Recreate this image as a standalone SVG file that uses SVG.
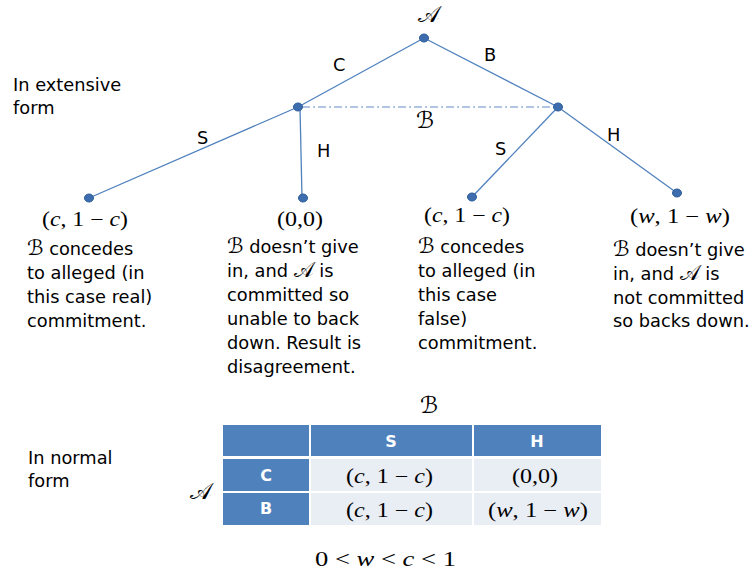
<svg xmlns="http://www.w3.org/2000/svg" width="752" height="577" viewBox="0 0 752 577">
<style>
.t{font-family:"DejaVu Sans","Liberation Sans",sans-serif;font-size:17.8px;fill:#000}
.m{font-family:"Liberation Serif","DejaVu Serif",serif;font-size:20px;fill:#000}
.i{font-style:italic}
.sc{font-family:"DejaVu Serif","DejaVu Sans",serif;font-size:23px;fill:#000}
.si{font-family:"DejaVu Serif","DejaVu Sans",serif;font-size:21px}
.edge{stroke:#4F81BD;stroke-width:1.3;fill:none}
.info{stroke:#95B3D7;stroke-width:1.5;stroke-dasharray:8 3 2 3;fill:none}
.node{fill:#3D6DAE;stroke:#2C5C99;stroke-width:1}
.hd{fill:#4F81BD}
.cell{fill:#E9EDF4}
.ht{font-family:"DejaVu Sans","Liberation Sans",sans-serif;font-size:16px;font-weight:bold;fill:#fff;text-anchor:middle}
</style>
<rect width="752" height="577" fill="#fff"/>
<g id="connectors">
<line class="edge" x1="424" y1="38" x2="298" y2="107"/>
<line class="edge" x1="424" y1="38" x2="558" y2="107"/>
<line class="info" x1="302" y1="107" x2="554" y2="107"/>
<line class="edge" x1="298" y1="107" x2="89" y2="198"/>
<line class="edge" x1="300" y1="107" x2="302" y2="198"/>
<line class="edge" x1="558" y1="107" x2="472" y2="197"/>
<line class="edge" x1="558" y1="107" x2="677" y2="193"/>
</g>
<g id="labels">
<text class="t" x="333" y="71">C</text>
<text class="t" x="484" y="61">B</text>
<text class="t" x="197" y="144">S</text>
<text class="t" x="317" y="157">H</text>
<text class="t" x="495" y="155">S</text>
<text class="t" x="607" y="141">H</text>
<text class="sc" x="416" y="128">ℬ</text>
</g>
<g id="root"><ellipse class="node" cx="424" cy="38" rx="4.5" ry="4"/><text class="sc" x="418" y="22">𝒜</text></g>
<g id="nodeC"><ellipse class="node" cx="298" cy="107" rx="4.5" ry="4"/></g>
<g id="nodeB"><ellipse class="node" cx="558" cy="107" rx="4.5" ry="4"/></g>
<g id="leafCS">
<ellipse class="node" cx="89" cy="198" rx="4.5" ry="4"/>
<text class="m" x="42" y="226" textLength="86" lengthAdjust="spacingAndGlyphs">(<tspan class="i">c</tspan>, 1 − <tspan class="i">c</tspan>)</text>
<text class="t" x="27" y="255"><tspan class="si">ℬ</tspan> concedes</text>
<text class="t" x="27" y="279">to alleged (in</text>
<text class="t" x="27" y="303">this case real)</text>
<text class="t" x="27" y="327">commitment.</text>
</g>
<g id="leafCH">
<ellipse class="node" cx="303" cy="198" rx="4.5" ry="4"/>
<text class="m" x="277" y="226" textLength="46" lengthAdjust="spacingAndGlyphs">(0,0)</text>
<text class="t" x="227" y="253"><tspan class="si">ℬ</tspan> doesn’t give</text>
<text class="t" x="227" y="277">in, and <tspan class="si">𝒜</tspan> is</text>
<text class="t" x="227" y="301">committed so</text>
<text class="t" x="227" y="325">unable to back</text>
<text class="t" x="227" y="349">down. Result is</text>
<text class="t" x="227" y="373">disagreement.</text>
</g>
<g id="leafBS">
<ellipse class="node" cx="472" cy="197" rx="4.5" ry="4"/>
<text class="m" x="424" y="222" textLength="86" lengthAdjust="spacingAndGlyphs">(<tspan class="i">c</tspan>, 1 − <tspan class="i">c</tspan>)</text>
<text class="t" x="418" y="253"><tspan class="si">ℬ</tspan> concedes</text>
<text class="t" x="418" y="277">to alleged (in</text>
<text class="t" x="418" y="301">this case</text>
<text class="t" x="418" y="325">false)</text>
<text class="t" x="418" y="349">commitment.</text>
</g>
<g id="leafBH">
<ellipse class="node" cx="677" cy="193" rx="4.5" ry="4"/>
<text class="m" x="630" y="223" textLength="100" lengthAdjust="spacingAndGlyphs">(<tspan class="i">w</tspan>, 1 − <tspan class="i">w</tspan>)</text>
<text class="t" x="613" y="256"><tspan class="si">ℬ</tspan> doesn’t give</text>
<text class="t" x="613" y="280">in, and <tspan class="si">𝒜</tspan> is</text>
<text class="t" x="613" y="304">not committed</text>
<text class="t" x="613" y="327">so backs down.</text>
</g>
<g id="titles">
<text class="t" x="13" y="91">In extensive</text>
<text class="t" x="13" y="114">form</text>
<text class="t" x="28" y="464">In normal</text>
<text class="t" x="28" y="487">form</text>
</g>
<g id="table">
<text class="sc" x="420" y="413">ℬ</text>
<text class="sc" x="190" y="499">𝒜</text>
<rect class="hd" x="223" y="425" width="86" height="31"/>
<rect class="hd" x="311" y="425" width="161" height="31"/>
<rect class="hd" x="474" y="425" width="127" height="31"/>
<rect class="hd" x="223" y="459" width="86" height="32"/>
<rect class="cell" x="311" y="459" width="161" height="32"/>
<rect class="cell" x="474" y="459" width="127" height="32"/>
<rect class="hd" x="223" y="493" width="86" height="32"/>
<rect class="cell" x="311" y="493" width="161" height="32"/>
<rect class="cell" x="474" y="493" width="127" height="32"/>
<text class="ht" x="391" y="447">S</text>
<text class="ht" x="537" y="447">H</text>
<text class="ht" x="266" y="481">C</text>
<text class="ht" x="266" y="514">B</text>
<text class="m" x="346" y="483" textLength="87" lengthAdjust="spacingAndGlyphs">(<tspan class="i">c</tspan>, 1 − <tspan class="i">c</tspan>)</text>
<text class="m" x="512" y="483" textLength="46" lengthAdjust="spacingAndGlyphs">(0,0)</text>
<text class="m" x="346" y="517" textLength="87" lengthAdjust="spacingAndGlyphs">(<tspan class="i">c</tspan>, 1 − <tspan class="i">c</tspan>)</text>
<text class="m" x="488" y="517" textLength="100" lengthAdjust="spacingAndGlyphs">(<tspan class="i">w</tspan>, 1 − <tspan class="i">w</tspan>)</text>
<text class="m" x="315" y="566" textLength="141" lengthAdjust="spacingAndGlyphs">0 &lt; <tspan class="i">w</tspan> &lt; <tspan class="i">c</tspan> &lt; 1</text>
</g>
</svg>
